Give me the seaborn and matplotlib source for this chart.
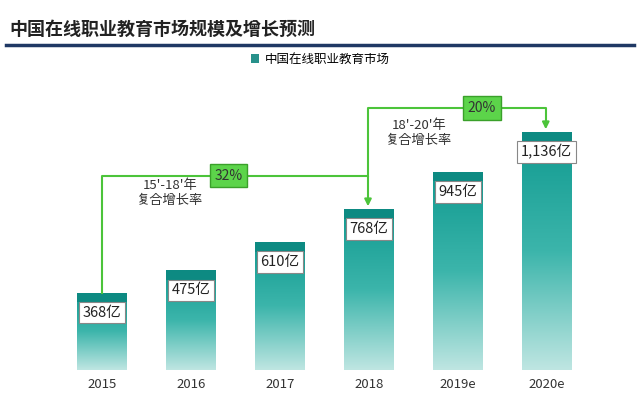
import numpy as np
import matplotlib.pyplot as plt
import seaborn as sns
from matplotlib.patches import Rectangle

plt.rcParams['font.family'] = ['Noto Sans CJK JP', 'Noto Sans CJK SC', 'Noto Sans CJK TC',
                               'Noto Sans CJK KR', 'DejaVu Sans']

years = ['2015', '2016', '2017', '2018', '2019e', '2020e']
market = [368, 475, 610, 768, 945, 1136]
value_labels = ['368亿', '475亿', '610亿', '768亿', '945亿', '1,136亿']
cagr_labels = ['32%', '20%']

fig = plt.figure(figsize=(6.4, 4.11), dpi=100)
fig.text(0.015, 0.915, '中国在线职业教育市场规模及增长预测', fontsize=13, fontweight='bold', color='#222222')
fig.add_artist(plt.Line2D([0.01, 0.99], [0.89, 0.89], color='#1f3864', lw=2.5))

ax = fig.add_axes([0, 0.1, 1, 0.754])
sns.barplot(x=years, y=market, color='#16a39a', width=0.56, ax=ax, label='中国在线职业教育市场')
ax.set_xlim(-1.15, 6.05)
ax.set_ylim(0, 1480)

# gradient fill + darker cap
grad = np.linspace(0, 1, 256).reshape(-1, 1)
cmap = sns.blend_palette(['#bfe6e2', '#3cb5ab', '#109a90'], as_cmap=True)
for p in ax.patches:
    x0, w, h = p.get_x(), p.get_width(), p.get_height()
    im = ax.imshow(grad, extent=[x0, x0 + w, 0, h], aspect='auto', cmap=cmap, origin='lower', zorder=2)
    im.set_clip_path(p)
    ax.add_patch(Rectangle((x0, h - 45), w, 45, color='#0d8a82', zorder=3, lw=0))

for i, (v, lab) in enumerate(zip(market, value_labels)):
    ax.text(i, v - 95, lab, ha='center', va='center', fontsize=10.5, color='#222222', zorder=5,
            bbox=dict(boxstyle='square,pad=0.25', fc='white', ec='#888888', lw=0.8))

green = '#4cc43a'
# 15-18 arrow
ax.plot([0, 0, 2.99, 2.99], [367, 928, 928, 800], color=green, lw=1.5, zorder=4)
ax.annotate('', xy=(2.99, 768), xytext=(2.99, 830),
            arrowprops=dict(arrowstyle='-|>', color=green, lw=1.5), zorder=4)
# 18-20 arrow
ax.plot([2.99, 2.99, 4.99, 4.99], [928, 1250, 1250, 1170], color=green, lw=1.5, zorder=4)
ax.annotate('', xy=(4.99, 1136), xytext=(4.99, 1200),
            arrowprops=dict(arrowstyle='-|>', color=green, lw=1.5), zorder=4)
for xx, yy, lab in [(1.42, 928, cagr_labels[0]), (4.27, 1250, cagr_labels[1])]:
    ax.text(xx, yy, lab, ha='center', va='center', fontsize=10, color='#333333', zorder=6,
            bbox=dict(boxstyle='square,pad=0.35', fc='#5cd44a', ec='#3aa02a', lw=1))
ax.text(0.76, 845, "15'-18'年\n复合增长率", ha='center', va='center', fontsize=9.5, color='#333333')
ax.text(3.57, 1130, "18'-20'年\n复合增长率", ha='center', va='center', fontsize=9.5, color='#333333')

ax.legend(loc='upper center', bbox_to_anchor=(0.5, 1.06), frameon=False, fontsize=9,
          handlelength=0.7, handleheight=0.7, handletextpad=0.4)
for s in ax.spines.values():
    s.set_visible(False)
ax.set_yticks([])
ax.tick_params(axis='x', length=0, labelsize=9.5, colors='#333333', pad=6)
ax.set_xlabel('')
ax.set_ylabel('')

plt.savefig('out.png', dpi=100)
